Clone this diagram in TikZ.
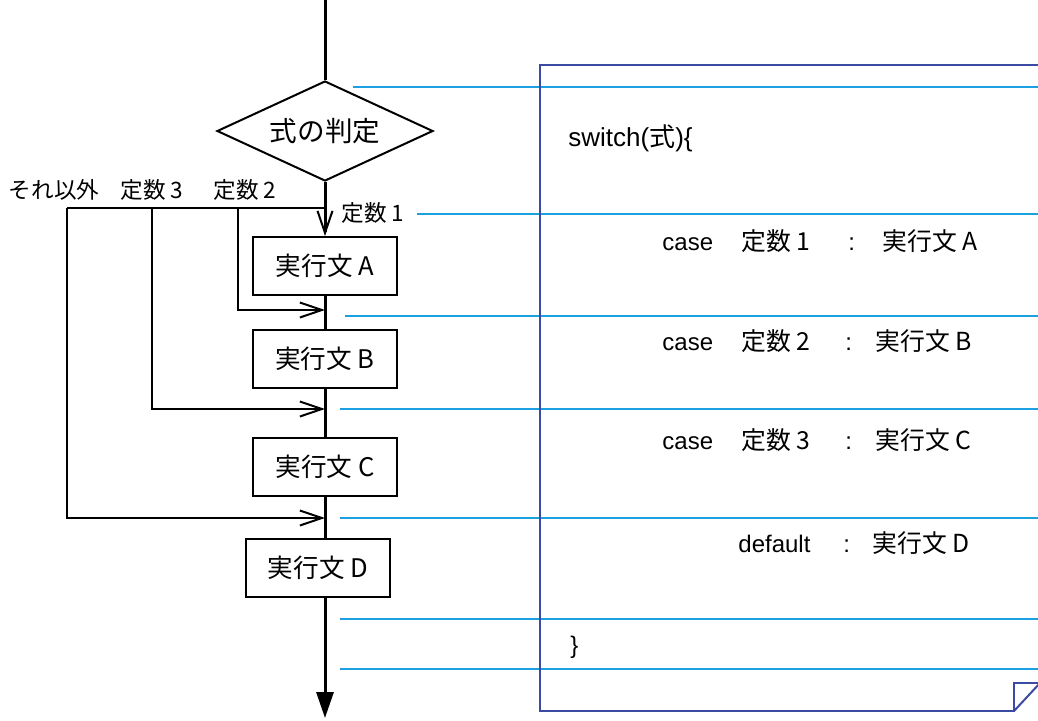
\documentclass[tikz,border=0pt]{standalone}
\usepackage{fontspec}
\setmainfont{Liberation Sans}
\newfontfamily\jp{Noto Sans CJK JP}
\usetikzlibrary{arrows.meta,shapes.geometric}
\definecolor{lineCyan}{HTML}{1BA1E2}
\definecolor{pageBlue}{HTML}{3B4BA3}

\begin{document}
\begin{tikzpicture}[x=0.5pt, y=-0.5pt, font=\jp\fontsize{12.8}{15}\selectfont,
  flow/.style={line width=1.5pt},
  branch/.style={line width=1pt},
  barb/.style={-{Straight Barb[length=11pt,width=7.5pt,line width=1pt]}},
  stmt/.style={draw, line width=1pt, minimum width=72pt, minimum height=29pt, inner sep=0pt},
  lbl/.style={font=\jp\fontsize{11.3}{13}\selectfont},
  code/.style={anchor=base west, inner sep=0pt, font=\fontsize{12}{14}\selectfont},
  codejp/.style={code, font=\jp\fontsize{12.4}{14}\selectfont},
  guide/.style={lineCyan, line width=1pt}]
  \useasboundingbox (0,0) rectangle (1038,720);
  % flow chart
  \coordinate (top) at (325,0);
  \node[draw, diamond, aspect=2.16, minimum width=108pt, minimum height=50pt, inner sep=0pt, line width=1pt,
    font=\jp\fontsize{13.8}{16}\selectfont] (dec) at (325,131) {式の判定};
  \node[stmt] (A) at (325,266) {実行文 A};
  \node[stmt] (B) at (325,359) {実行文 B};
  \node[stmt] (C) at (325,467) {実行文 C};
  \node[stmt] (D) at (318,568) {実行文 D};
  \coordinate (bot) at (325,718);
  \draw[flow] (top) -- (dec.north);
  \draw[flow, barb] (dec.south) -- (A.north);
  \draw[flow] (A) -- (B);
  \draw[flow] (B) -- (C);
  \draw[flow] (C) -- (top |- D.north);
  \draw[flow, -{Triangle[length=13pt,width=8.5pt]}] (top |- D.south) -- (bot);
  % branches
  \coordinate (j0) at (325,208);
  \coordinate (j1) at (325,310);
  \coordinate (j2) at (325,409);
  \coordinate (j3) at (325,518);
  \coordinate (k1) at (238,208);
  \coordinate (k2) at (152,208);
  \coordinate (k3) at (67,208);
  \draw[branch] (j0) -- (k3);
  \draw[branch, barb] (k1) |- (j1);
  \draw[branch, barb] (k2) |- (j2);
  \draw[branch, barb] (k3) |- (j3);
  \node[lbl] (l1) at (373,213) {定数 1};
  \node[lbl] (l2) at (245,190) {定数 2};
  \node[lbl] (l3) at (152,190) {定数 3};
  \node[lbl] (l4) at (54,190) {それ以外};
  % source page
  \foreach \x/\y in {353/87, 417/214, 345/316, 340/409, 340/518, 340/619, 340/669}
    \draw[guide] (\x,\y) -- (1038,\y);
  \draw[pageBlue, line width=1pt] (1038,65) -- (540,65) -- (540,711) -- (1014,711) -- (1014,683) -- (1038,683);
  \draw[pageBlue, line width=1pt] (1014,711) -- (1040,683);
  \node[code, font=\fontsize{13}{15}\selectfont] (sw) at (568,146) {switch({\jp\fontsize{13}{15}\selectfont 式})\{};
  \foreach \y/\c/\s/\xc/\xs in {250/1/A/848/882, 350/2/B/845/875, 449/3/C/845/875} {
    \node[code] (case\c) at (662,\y) {case};
    \node[codejp] (const\c) at (741,\y) {定数 \c};
    \node[code] (colon\c) at (\xc,\y) {:};
    \node[codejp] (run\c) at (\xs,\y) {実行文 \s};
  }
  \node[code] (dflt) at (738,552) {default};
  \node[code] (colon4) at (843,552) {:};
  \node[codejp] (run4) at (872,552) {実行文 D};
  \node[code] (close) at (570,653) {\}};
\end{tikzpicture}
\end{document}
